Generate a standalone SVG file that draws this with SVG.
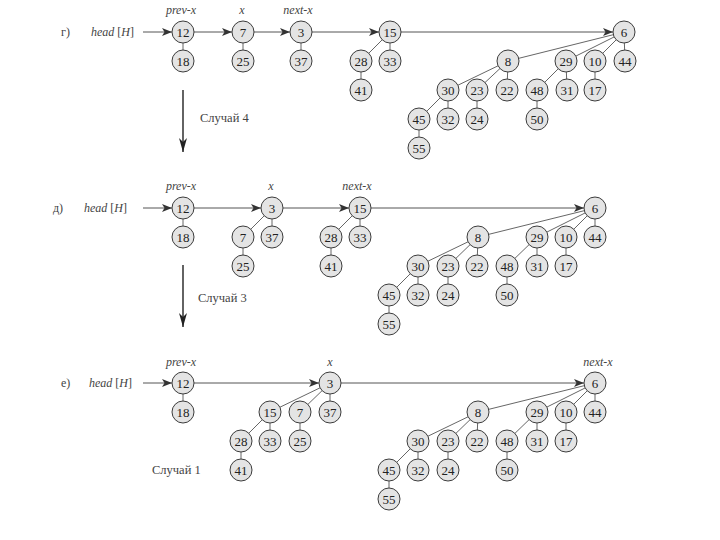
<svg xmlns="http://www.w3.org/2000/svg" width="720" height="540" viewBox="0 0 720 540">
<defs>
<style>
.n circle{fill:#e4e4e4;stroke:#3c3c3c;stroke-width:1}
.n text{font-family:"Liberation Serif",serif;font-size:13px;fill:#222;text-anchor:middle;dominant-baseline:central}
.e line{stroke:#555;stroke-width:0.9}
.a line{stroke:#555;stroke-width:1;marker-end:url(#ah)}
.d line{stroke:#222;stroke-width:1.4;marker-end:url(#dh)}
.lbl{font-family:"Liberation Serif",serif;font-style:italic;font-size:12px;fill:#444;text-anchor:middle}
.hd{font-family:"Liberation Serif",serif;font-size:12px;fill:#444}
.cs{font-family:"Liberation Serif",serif;font-size:12.5px;fill:#444}
</style>
<marker id="ah" viewBox="0 0 10 8" refX="10" refY="4" markerWidth="10" markerHeight="8" markerUnits="userSpaceOnUse" orient="auto"><path d="M0,0 L10,4 L0,8 L2.5,4 z" fill="#333"/></marker>
<marker id="dh" viewBox="0 0 14 8" refX="14" refY="4" markerWidth="14" markerHeight="8" markerUnits="userSpaceOnUse" orient="auto"><path d="M0,0 L14,4 L0,8 L4,4 z" fill="#222"/></marker>
</defs>
<rect width="720" height="540" fill="#fff"/>

<g id="connectors">
<g class="a">
<line x1="143" y1="32" x2="172" y2="32"/>
<line x1="194" y1="32" x2="232" y2="32"/>
<line x1="254" y1="32" x2="290" y2="32"/>
<line x1="312" y1="32" x2="379" y2="32"/>
<line x1="401" y1="32" x2="613" y2="32"/>
<line x1="143" y1="208" x2="172" y2="208"/>
<line x1="194" y1="208" x2="261" y2="208"/>
<line x1="283" y1="208" x2="349" y2="208"/>
<line x1="371" y1="208" x2="584" y2="208"/>
<line x1="143" y1="383" x2="172" y2="383"/>
<line x1="194" y1="383" x2="319" y2="383"/>
<line x1="341" y1="383" x2="584" y2="383"/>
</g>
<g class="e">
<line x1="183" y1="32" x2="183" y2="61"/>
<line x1="243" y1="32" x2="243" y2="61"/>
<line x1="301" y1="32" x2="301" y2="61"/>
<line x1="390" y1="32" x2="361" y2="61"/>
<line x1="390" y1="32" x2="390" y2="61"/>
<line x1="361" y1="61" x2="361" y2="90"/>
<line x1="624" y1="32" x2="508" y2="61"/>
<line x1="624" y1="32" x2="566" y2="61"/>
<line x1="624" y1="32" x2="595" y2="61"/>
<line x1="624" y1="32" x2="625" y2="61"/>
<line x1="508" y1="61" x2="448" y2="90"/>
<line x1="508" y1="61" x2="477" y2="90"/>
<line x1="508" y1="61" x2="507" y2="90"/>
<line x1="566" y1="61" x2="537" y2="90"/>
<line x1="566" y1="61" x2="567" y2="90"/>
<line x1="595" y1="61" x2="595" y2="90"/>
<line x1="448" y1="90" x2="419" y2="119"/>
<line x1="448" y1="90" x2="448" y2="119"/>
<line x1="477" y1="90" x2="477" y2="119"/>
<line x1="537" y1="90" x2="537" y2="119"/>
<line x1="419" y1="119" x2="419" y2="148"/>
<line x1="183" y1="208" x2="183" y2="237"/>
<line x1="272" y1="208" x2="243" y2="237"/>
<line x1="272" y1="208" x2="272" y2="237"/>
<line x1="243" y1="237" x2="243" y2="266"/>
<line x1="360" y1="208" x2="331" y2="237"/>
<line x1="360" y1="208" x2="360" y2="237"/>
<line x1="331" y1="237" x2="331" y2="266"/>
<line x1="595" y1="208" x2="478" y2="237"/>
<line x1="595" y1="208" x2="537" y2="237"/>
<line x1="595" y1="208" x2="566" y2="237"/>
<line x1="595" y1="208" x2="595" y2="237"/>
<line x1="478" y1="237" x2="418" y2="266"/>
<line x1="478" y1="237" x2="448" y2="266"/>
<line x1="478" y1="237" x2="477" y2="266"/>
<line x1="537" y1="237" x2="507" y2="266"/>
<line x1="537" y1="237" x2="537" y2="266"/>
<line x1="566" y1="237" x2="566" y2="266"/>
<line x1="418" y1="266" x2="389" y2="295"/>
<line x1="418" y1="266" x2="418" y2="295"/>
<line x1="448" y1="266" x2="448" y2="295"/>
<line x1="507" y1="266" x2="507" y2="295"/>
<line x1="389" y1="295" x2="389" y2="324"/>
<line x1="183" y1="383" x2="183" y2="412"/>
<line x1="330" y1="383" x2="270" y2="412"/>
<line x1="330" y1="383" x2="300" y2="412"/>
<line x1="330" y1="383" x2="330" y2="412"/>
<line x1="270" y1="412" x2="241" y2="441"/>
<line x1="270" y1="412" x2="270" y2="441"/>
<line x1="300" y1="412" x2="300" y2="441"/>
<line x1="241" y1="441" x2="241" y2="470"/>
<line x1="595" y1="383" x2="478" y2="412"/>
<line x1="595" y1="383" x2="537" y2="412"/>
<line x1="595" y1="383" x2="566" y2="412"/>
<line x1="595" y1="383" x2="595" y2="412"/>
<line x1="478" y1="412" x2="418" y2="441"/>
<line x1="478" y1="412" x2="448" y2="441"/>
<line x1="478" y1="412" x2="477" y2="441"/>
<line x1="537" y1="412" x2="507" y2="441"/>
<line x1="537" y1="412" x2="537" y2="441"/>
<line x1="566" y1="412" x2="566" y2="441"/>
<line x1="418" y1="441" x2="389" y2="470"/>
<line x1="418" y1="441" x2="418" y2="470"/>
<line x1="448" y1="441" x2="448" y2="470"/>
<line x1="507" y1="441" x2="507" y2="470"/>
<line x1="389" y1="470" x2="389" y2="499"/>
</g>
<g class="d">
<line x1="183" y1="90" x2="183" y2="152"/>
<line x1="183" y1="265" x2="183" y2="327"/>
</g>
</g>

<g id="labels">
<text class="hd" x="61" y="36">г)</text>
<text class="hd" x="91" y="36"><tspan font-style="italic">head</tspan> [<tspan font-style="italic">H</tspan>]</text>
<text class="lbl" x="181" y="14">prev-x</text>
<text class="lbl" x="242" y="14">x</text>
<text class="lbl" x="298" y="14">next-x</text>
<text class="cs" x="200" y="122">Случай 4</text>
<text class="hd" x="53" y="212">д)</text>
<text class="hd" x="84" y="212"><tspan font-style="italic">head</tspan> [<tspan font-style="italic">H</tspan>]</text>
<text class="lbl" x="181" y="190">prev-x</text>
<text class="lbl" x="271" y="190">x</text>
<text class="lbl" x="357" y="190">next-x</text>
<text class="cs" x="198" y="302">Случай 3</text>
<text class="hd" x="61" y="387">е)</text>
<text class="hd" x="89" y="387"><tspan font-style="italic">head</tspan> [<tspan font-style="italic">H</tspan>]</text>
<text class="lbl" x="181" y="366">prev-x</text>
<text class="lbl" x="330" y="366">x</text>
<text class="lbl" x="598" y="366">next-x</text>
<text class="cs" x="152" y="474">Случай 1</text>
</g>

<g id="g-12" class="n"><circle cx="183" cy="32" r="11"/><text x="183" y="32">12</text></g>
<g id="g-18" class="n"><circle cx="183" cy="61" r="11"/><text x="183" y="61">18</text></g>
<g id="g-7" class="n"><circle cx="243" cy="32" r="11"/><text x="243" y="32">7</text></g>
<g id="g-25" class="n"><circle cx="243" cy="61" r="11"/><text x="243" y="61">25</text></g>
<g id="g-3" class="n"><circle cx="301" cy="32" r="11"/><text x="301" y="32">3</text></g>
<g id="g-37" class="n"><circle cx="301" cy="61" r="11"/><text x="301" y="61">37</text></g>
<g id="g-15" class="n"><circle cx="390" cy="32" r="11"/><text x="390" y="32">15</text></g>
<g id="g-28" class="n"><circle cx="361" cy="61" r="11"/><text x="361" y="61">28</text></g>
<g id="g-33" class="n"><circle cx="390" cy="61" r="11"/><text x="390" y="61">33</text></g>
<g id="g-41" class="n"><circle cx="361" cy="90" r="11"/><text x="361" y="90">41</text></g>
<g id="g-6" class="n"><circle cx="624" cy="32" r="11"/><text x="624" y="32">6</text></g>
<g id="g-8" class="n"><circle cx="508" cy="61" r="11"/><text x="508" y="61">8</text></g>
<g id="g-29" class="n"><circle cx="566" cy="61" r="11"/><text x="566" y="61">29</text></g>
<g id="g-10" class="n"><circle cx="595" cy="61" r="11"/><text x="595" y="61">10</text></g>
<g id="g-44" class="n"><circle cx="625" cy="61" r="11"/><text x="625" y="61">44</text></g>
<g id="g-30" class="n"><circle cx="448" cy="90" r="11"/><text x="448" y="90">30</text></g>
<g id="g-23" class="n"><circle cx="477" cy="90" r="11"/><text x="477" y="90">23</text></g>
<g id="g-22" class="n"><circle cx="507" cy="90" r="11"/><text x="507" y="90">22</text></g>
<g id="g-48" class="n"><circle cx="537" cy="90" r="11"/><text x="537" y="90">48</text></g>
<g id="g-31" class="n"><circle cx="567" cy="90" r="11"/><text x="567" y="90">31</text></g>
<g id="g-17" class="n"><circle cx="595" cy="90" r="11"/><text x="595" y="90">17</text></g>
<g id="g-45" class="n"><circle cx="419" cy="119" r="11"/><text x="419" y="119">45</text></g>
<g id="g-32" class="n"><circle cx="448" cy="119" r="11"/><text x="448" y="119">32</text></g>
<g id="g-24" class="n"><circle cx="477" cy="119" r="11"/><text x="477" y="119">24</text></g>
<g id="g-50" class="n"><circle cx="537" cy="119" r="11"/><text x="537" y="119">50</text></g>
<g id="g-55" class="n"><circle cx="419" cy="148" r="11"/><text x="419" y="148">55</text></g>

<g id="d-12" class="n"><circle cx="183" cy="208" r="11"/><text x="183" y="208">12</text></g>
<g id="d-18" class="n"><circle cx="183" cy="237" r="11"/><text x="183" y="237">18</text></g>
<g id="d-3" class="n"><circle cx="272" cy="208" r="11"/><text x="272" y="208">3</text></g>
<g id="d-7" class="n"><circle cx="243" cy="237" r="11"/><text x="243" y="237">7</text></g>
<g id="d-37" class="n"><circle cx="272" cy="237" r="11"/><text x="272" y="237">37</text></g>
<g id="d-25" class="n"><circle cx="243" cy="266" r="11"/><text x="243" y="266">25</text></g>
<g id="d-15" class="n"><circle cx="360" cy="208" r="11"/><text x="360" y="208">15</text></g>
<g id="d-28" class="n"><circle cx="331" cy="237" r="11"/><text x="331" y="237">28</text></g>
<g id="d-33" class="n"><circle cx="360" cy="237" r="11"/><text x="360" y="237">33</text></g>
<g id="d-41" class="n"><circle cx="331" cy="266" r="11"/><text x="331" y="266">41</text></g>
<g id="d-6" class="n"><circle cx="595" cy="208" r="11"/><text x="595" y="208">6</text></g>
<g id="d-8" class="n"><circle cx="478" cy="237" r="11"/><text x="478" y="237">8</text></g>
<g id="d-29" class="n"><circle cx="537" cy="237" r="11"/><text x="537" y="237">29</text></g>
<g id="d-10" class="n"><circle cx="566" cy="237" r="11"/><text x="566" y="237">10</text></g>
<g id="d-44" class="n"><circle cx="595" cy="237" r="11"/><text x="595" y="237">44</text></g>
<g id="d-30" class="n"><circle cx="418" cy="266" r="11"/><text x="418" y="266">30</text></g>
<g id="d-23" class="n"><circle cx="448" cy="266" r="11"/><text x="448" y="266">23</text></g>
<g id="d-22" class="n"><circle cx="477" cy="266" r="11"/><text x="477" y="266">22</text></g>
<g id="d-48" class="n"><circle cx="507" cy="266" r="11"/><text x="507" y="266">48</text></g>
<g id="d-31" class="n"><circle cx="537" cy="266" r="11"/><text x="537" y="266">31</text></g>
<g id="d-17" class="n"><circle cx="566" cy="266" r="11"/><text x="566" y="266">17</text></g>
<g id="d-45" class="n"><circle cx="389" cy="295" r="11"/><text x="389" y="295">45</text></g>
<g id="d-32" class="n"><circle cx="418" cy="295" r="11"/><text x="418" y="295">32</text></g>
<g id="d-24" class="n"><circle cx="448" cy="295" r="11"/><text x="448" y="295">24</text></g>
<g id="d-50" class="n"><circle cx="507" cy="295" r="11"/><text x="507" y="295">50</text></g>
<g id="d-55" class="n"><circle cx="389" cy="324" r="11"/><text x="389" y="324">55</text></g>

<g id="e-12" class="n"><circle cx="183" cy="383" r="11"/><text x="183" y="383">12</text></g>
<g id="e-18" class="n"><circle cx="183" cy="412" r="11"/><text x="183" y="412">18</text></g>
<g id="e-3" class="n"><circle cx="330" cy="383" r="11"/><text x="330" y="383">3</text></g>
<g id="e-15" class="n"><circle cx="270" cy="412" r="11"/><text x="270" y="412">15</text></g>
<g id="e-7" class="n"><circle cx="300" cy="412" r="11"/><text x="300" y="412">7</text></g>
<g id="e-37" class="n"><circle cx="330" cy="412" r="11"/><text x="330" y="412">37</text></g>
<g id="e-28" class="n"><circle cx="241" cy="441" r="11"/><text x="241" y="441">28</text></g>
<g id="e-33" class="n"><circle cx="270" cy="441" r="11"/><text x="270" y="441">33</text></g>
<g id="e-25" class="n"><circle cx="300" cy="441" r="11"/><text x="300" y="441">25</text></g>
<g id="e-41" class="n"><circle cx="241" cy="470" r="11"/><text x="241" y="470">41</text></g>
<g id="e-6" class="n"><circle cx="595" cy="383" r="11"/><text x="595" y="383">6</text></g>
<g id="e-8" class="n"><circle cx="478" cy="412" r="11"/><text x="478" y="412">8</text></g>
<g id="e-29" class="n"><circle cx="537" cy="412" r="11"/><text x="537" y="412">29</text></g>
<g id="e-10" class="n"><circle cx="566" cy="412" r="11"/><text x="566" y="412">10</text></g>
<g id="e-44" class="n"><circle cx="595" cy="412" r="11"/><text x="595" y="412">44</text></g>
<g id="e-30" class="n"><circle cx="418" cy="441" r="11"/><text x="418" y="441">30</text></g>
<g id="e-23" class="n"><circle cx="448" cy="441" r="11"/><text x="448" y="441">23</text></g>
<g id="e-22" class="n"><circle cx="477" cy="441" r="11"/><text x="477" y="441">22</text></g>
<g id="e-48" class="n"><circle cx="507" cy="441" r="11"/><text x="507" y="441">48</text></g>
<g id="e-31" class="n"><circle cx="537" cy="441" r="11"/><text x="537" y="441">31</text></g>
<g id="e-17" class="n"><circle cx="566" cy="441" r="11"/><text x="566" y="441">17</text></g>
<g id="e-45" class="n"><circle cx="389" cy="470" r="11"/><text x="389" y="470">45</text></g>
<g id="e-32" class="n"><circle cx="418" cy="470" r="11"/><text x="418" y="470">32</text></g>
<g id="e-24" class="n"><circle cx="448" cy="470" r="11"/><text x="448" y="470">24</text></g>
<g id="e-50" class="n"><circle cx="507" cy="470" r="11"/><text x="507" y="470">50</text></g>
<g id="e-55" class="n"><circle cx="389" cy="499" r="11"/><text x="389" y="499">55</text></g>
</svg>
